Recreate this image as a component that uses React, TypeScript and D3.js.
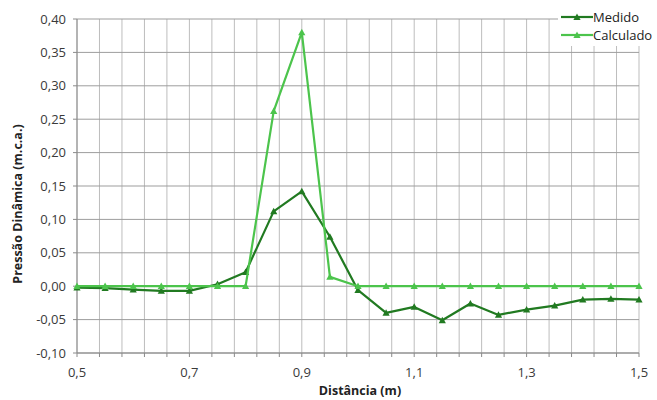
import React from "react";
import * as d3 from "d3";

const distances = [0.5, 0.55, 0.6, 0.65, 0.7, 0.75, 0.8, 0.85, 0.9, 0.95, 1.0, 1.05, 1.1, 1.15, 1.2, 1.25, 1.3, 1.35, 1.4, 1.45, 1.5];
const medido = [-0.002, -0.003, -0.005, -0.007, -0.007, 0.003, 0.021, 0.112, 0.142, 0.074, -0.006, -0.040, -0.031, -0.051, -0.026, -0.043, -0.035, -0.029, -0.020, -0.019, -0.020];
const calculado = [0, 0, 0, 0, 0, 0, 0, 0.262, 0.38, 0.014, 0, 0, 0, 0, 0, 0, 0, 0, 0, 0, 0];
const seriesNames = ["Medido", "Calculado"];
const seriesColors = ["#217a21", "#4cc44c"];
const xTicks = [0.5, 0.7, 0.9, 1.1, 1.3, 1.5];
const yTicks = [-0.1, -0.05, 0, 0.05, 0.1, 0.15, 0.2, 0.25, 0.3, 0.35, 0.4];

const W = 657, H = 400;
const left = 77, right = 639, top = 19, bottom = 353;

export default function App() {
  const x = d3.scaleLinear().domain([0.5, 1.5]).range([left, right]);
  const y = d3.scaleLinear().domain([-0.1, 0.4]).range([bottom, top]);
  const minorX = d3.range(0, 26).map((i) => 0.5 + i * 0.04);
  const fmt = (v: number, d: number) => v.toFixed(d).replace(".", ",");
  const font = "'Open Sans', 'Noto Sans', sans-serif";
  const data = [medido, calculado];
  const line = (vals: number[]) =>
    d3.line<number>().x((_, i) => x(distances[i])).y((v) => y(v))(vals) || "";
  const tri = (cx: number, cy: number) => {
    const s = 3.6;
    return `M${cx},${cy - s}L${cx + s},${cy + s * 0.8}L${cx - s},${cy + s * 0.8}Z`;
  };
  return (
    <svg width={W} height={H} style={{ position: "absolute", left: 0, top: 0 }} fontFamily={font}>
      <rect x={0} y={0} width={W} height={H} fill="#fff" />
      {minorX.map((v, i) => (
        <line key={"vx" + i} x1={x(v)} x2={x(v)} y1={top} y2={bottom} stroke="#bdbdbd" strokeWidth={1} />
      ))}
      {yTicks.map((v, i) => (
        <line key={"hy" + i} x1={left} x2={right} y1={y(v)} y2={y(v)} stroke="#9d9d9d" strokeWidth={1} />
      ))}
      <line x1={left} x2={left} y1={top} y2={bottom} stroke="#8a8a8a" />
      <line x1={left} x2={right} y1={bottom} y2={bottom} stroke="#8a8a8a" />
      {yTicks.map((v, i) => (
        <line key={"yt" + i} x1={left - 4} x2={left} y1={y(v)} y2={y(v)} stroke="#8a8a8a" />
      ))}
      {minorX.map((v, i) => (
        <line key={"xt" + i} x1={x(v)} x2={x(v)} y1={bottom} y2={bottom + 4} stroke="#8a8a8a" />
      ))}
      {yTicks.map((v, i) => (
        <text key={"yl" + i} x={left - 11} y={y(v)} dy="0.35em" textAnchor="end" fontSize={13} fill="#3a3a3a">
          {fmt(v, 2)}
        </text>
      ))}
      {xTicks.map((v, i) => (
        <text key={"xl" + i} x={x(v)} y={bottom + 24} textAnchor="middle" fontSize={13} fill="#3a3a3a">
          {fmt(v, 1)}
        </text>
      ))}
      <text x={360} y={395} textAnchor="middle" fontSize={12.5} fontWeight="bold" fill="#222">
        Distância  (m)
      </text>
      <text transform={`translate(22,204) rotate(-90)`} textAnchor="middle" fontSize={12.5} fontWeight="bold" fill="#222">
        Pressão  Dinâmica  (m.c.a.)
      </text>
      {data.map((vals, si) => (
        <g key={"s" + si}>
          <path d={line(vals)} fill="none" stroke={seriesColors[si]} strokeWidth={2.2} strokeLinejoin="round" />
          {vals.map((v, i) => (
            <path key={i} d={tri(x(distances[i]), y(v))} fill={seriesColors[si]} />
          ))}
        </g>
      ))}
      <rect x={558} y={6} width={99} height={40} fill="#fff" />
      {seriesNames.map((n, i) => (
        <g key={"lg" + i}>
          <line x1={561} x2={593} y1={17 + i * 18} y2={17 + i * 18} stroke={seriesColors[i]} strokeWidth={2.2} />
          <path d={tri(577, 17 + i * 18)} fill={seriesColors[i]} />
          <text x={593} y={17 + i * 18} dy="0.35em" fontSize={13} fill="#222">
            {n}
          </text>
        </g>
      ))}
    </svg>
  );
}
